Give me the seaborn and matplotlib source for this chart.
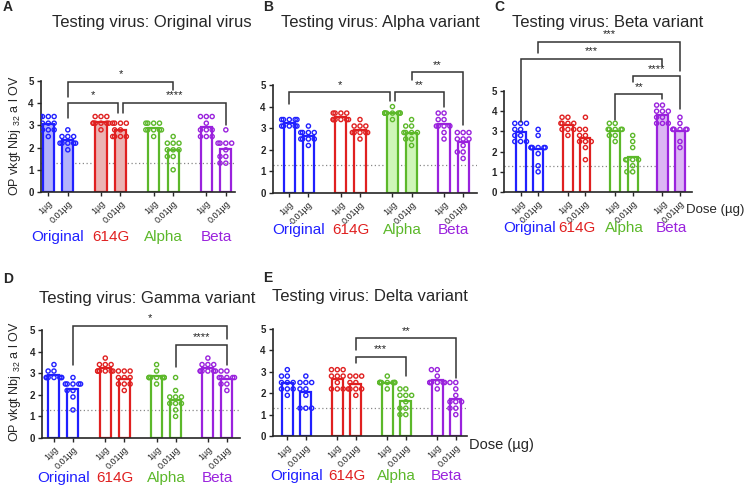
import warnings
warnings.filterwarnings("ignore")
import numpy as np
import pandas as pd
import matplotlib
matplotlib.use("Agg")
import matplotlib.pyplot as plt
import matplotlib.transforms as mtransforms
import seaborn as sns

# ---------------- data ----------------
groups = ["Original", "614G", "Alpha", "Beta"]
doses = ["1µg", "0.01µg"]
colors = ["#2020ff", "#e02020", "#5cb82a", "#9a22dd"]
fill_colors = ["#b3b3fb", "#ebb3b3", "#cff6b8", "#dcb6f4"]

titles = ["Testing virus: Original virus", "Testing virus: Alpha variant",
          "Testing virus: Beta variant", "Testing virus: Gamma variant",
          "Testing virus: Delta variant"]
letters = ["A", "B", "C", "D", "E"]
filled_groups = [["Original", "614G"], ["Alpha"], ["Beta"], [], []]
ylabel_text = r"OP vkgt Nbj $_{32}$ a l OV"

# values per bar: Original 1µg, Original 0.01µg, 614G 1µg, 614G 0.01µg,
# Alpha 1µg, Alpha 0.01µg, Beta 1µg, Beta 0.01µg
vals_A = [
    [3.4, 3.4, 3.4, 3.4, 3.1, 3.1, 3.1, 2.8, 2.8, 2.8, 2.5],
    [2.8, 2.5, 2.5, 2.5, 2.2, 2.2, 2.2, 2.2, 2.2, 1.9],
    [3.4, 3.4, 3.4, 3.1, 3.1, 3.1, 3.1, 3.1, 3.1, 2.8],
    [3.1, 3.1, 3.1, 3.1, 2.8, 2.8, 2.5, 2.5, 2.5, 2.5],
    [3.1, 3.1, 3.1, 3.1, 2.8, 2.8, 2.8, 2.8, 2.8, 2.5],
    [2.5, 2.2, 2.2, 2.2, 1.9, 1.9, 1.9, 1.6, 1.6, 1.0],
    [3.4, 3.4, 3.4, 3.1, 2.8, 2.8, 2.8, 2.5, 2.5, 2.5],
    [2.8, 2.2, 2.2, 2.2, 2.2, 1.9, 1.6, 1.6, 1.3, 1.3],
]
vals_B = [
    [3.4, 3.4, 3.4, 3.4, 3.4, 3.1, 3.1, 3.1, 3.1, 3.1],
    [3.1, 2.8, 2.8, 2.8, 2.8, 2.5, 2.5, 2.5, 2.5, 2.2],
    [3.7, 3.7, 3.7, 3.7, 3.4, 3.4, 3.4, 3.4, 3.4, 3.4],
    [3.4, 3.1, 3.1, 3.1, 2.8, 2.8, 2.8, 2.8, 2.8, 2.5],
    [4.0, 3.7, 3.7, 3.7, 3.7, 3.7, 3.7, 3.7, 3.7, 3.4],
    [3.4, 3.1, 3.1, 2.8, 2.8, 2.8, 2.8, 2.5, 2.5, 2.2],
    [3.7, 3.7, 3.4, 3.4, 3.1, 3.1, 3.1, 3.1, 2.8, 2.5],
    [2.8, 2.8, 2.8, 2.5, 2.5, 2.5, 2.2, 1.9, 1.9, 1.6],
]
vals_C = [
    [3.4, 3.4, 3.4, 3.1, 3.1, 2.8, 2.8, 2.5, 2.5, 2.5],
    [3.1, 2.8, 2.2, 2.2, 2.2, 2.2, 2.2, 2.2, 1.9, 1.3, 1.0],
    [3.7, 3.7, 3.4, 3.4, 3.4, 3.4, 3.1, 3.1, 3.1, 2.8],
    [3.7, 3.1, 3.1, 2.8, 2.8, 2.5, 2.5, 2.5, 2.2, 1.6],
    [3.4, 3.4, 3.1, 3.1, 3.1, 3.1, 3.1, 2.8, 2.8, 2.5],
    [2.8, 2.5, 2.2, 1.6, 1.6, 1.6, 1.6, 1.3, 1.0, 1.0],
    [4.3, 4.3, 4.0, 4.0, 4.0, 3.7, 3.7, 3.4, 3.4, 3.4],
    [3.7, 3.4, 3.1, 3.1, 3.1, 3.1, 3.1, 3.1, 2.5, 2.2],
]
vals_D = [
    [3.4, 3.1, 3.1, 2.8, 2.8, 2.8, 2.8, 2.8, 2.8, 2.8],
    [2.8, 2.5, 2.5, 2.5, 2.5, 2.5, 2.2, 2.2, 1.9, 1.3],
    [3.7, 3.4, 3.4, 3.4, 3.1, 3.1, 3.1, 3.1, 3.1, 3.1],
    [3.1, 3.1, 3.1, 2.8, 2.8, 2.8, 2.5, 2.5, 2.5, 2.2],
    [3.4, 3.1, 2.8, 2.8, 2.8, 2.8, 2.8, 2.8, 2.8, 2.5],
    [2.8, 2.2, 1.9, 1.9, 1.9, 1.6, 1.6, 1.6, 1.3, 1.0],
    [3.7, 3.4, 3.4, 3.4, 3.1, 3.1, 3.1, 3.1, 3.1, 3.1],
    [3.1, 3.1, 2.8, 2.8, 2.8, 2.8, 2.8, 2.5, 2.5, 2.2],
]
vals_E = [
    [3.1, 2.8, 2.8, 2.5, 2.5, 2.5, 2.2, 2.2, 2.2, 1.9],
    [2.8, 2.5, 2.5, 2.5, 2.2, 2.2, 1.9, 1.3, 1.3, 1.3],
    [3.1, 3.1, 3.1, 2.8, 2.8, 2.8, 2.5, 2.2, 2.2, 2.2],
    [2.8, 2.8, 2.8, 2.5, 2.5, 2.2, 2.2, 2.2, 2.2, 1.9],
    [2.8, 2.5, 2.5, 2.5, 2.5, 2.5, 2.5, 2.5, 2.5, 2.2],
    [2.2, 2.2, 1.9, 1.9, 1.9, 1.6, 1.3, 1.3, 1.0, 1.0],
    [3.1, 3.1, 2.8, 2.5, 2.5, 2.5, 2.5, 2.5, 2.5, 2.2],
    [2.5, 2.5, 2.2, 1.9, 1.6, 1.6, 1.6, 1.3, 1.3, 1.0],
]
panel_vals = [vals_A, vals_B, vals_C, vals_D, vals_E]

# significance brackets: (bar i, bar j, line y, leg-i bottom, leg-j bottom, label, dx_i, dx_j)
brackets_A = [(1, 5, 4.97, 4.3, 4.6, "*", 0, 0),
              (1, 3, 4.0, 3.33, 3.55, "*", 0, -0.12),
              (3, 7, 4.0, 3.55, 3.0, "****", 0.12, 0)]
brackets_B = [(0, 4, 4.66, 4.1, 4.28, "*", 0, -0.12),
              (4, 6, 4.66, 4.28, 4.0, "**", 0.12, 0),
              (5, 7, 5.58, 5.23, 3.15, "**", 0, 0)]
brackets_C = [(4, 6, 4.84, 3.56, 4.62, "**", 0, 0),
              (5, 7, 5.72, 5.44, 4.1, "****", 0, 0),
              (0, 6, 6.59, 3.48, 6.26, "***", 0, 0),
              (1, 7, 7.44, 6.9, 6.0, "***", 0, 0)]
brackets_D = [(1, 7, 5.18, 3.38, 4.57, "*", 0, 0),
              (5, 7, 4.31, 3.3, 3.38, "****", 0, 0)]
brackets_E = [(3, 7, 4.57, 4.0, 2.72, "**", 0, 0),
              (3, 5, 3.69, 3.42, 2.8, "***", 0, 0)]
panel_brackets = [brackets_A, brackets_B, brackets_C, brackets_D, brackets_E]

# ---------------- layout (pixels) ----------------
W, H = 747, 487
group_step = 2.7
axes_px = [(40.7, 235.0, 81, 192), (272.7, 476.7, 85, 193), (504.0, 691.7, 91, 192),
           (42.0, 240.0, 330, 438), (272.7, 466.7, 329, 436)]
xlims = [(-0.39, 9.57), (-0.87, 9.81), (-0.95, 9.77), (-0.63, 9.79), (-0.79, 9.69)]
title_px = [(152, 23), (380, 22), (608, 22), (147, 298), (370, 296)]
letter_px = [(3, 7), (263, 7), (494, 7), (3, 279), (263, 278)]
group_label_y = [-0.405, -0.34, -0.353, -0.37, -0.374]
ylabel_px = [(15, 136), (15, 382)]

sns.set_style("ticks")
plt.rcParams["font.family"] = ["Liberation Sans", "DejaVu Sans"]
plt.rcParams["mathtext.fontset"] = "custom"
plt.rcParams["mathtext.rm"] = "Liberation Sans"

fig = plt.figure(figsize=(W / 100, H / 100), dpi=100)


def rect(l, r, t, b):
    return [l / W, 1 - b / H, (r - l) / W, (b - t) / H]


for p in range(5):
    ax = fig.add_axes(rect(*axes_px[p]))
    rows = []
    positions = []
    for gi, g in enumerate(groups):
        for di, d in enumerate(doses):
            pos = gi * group_step + di
            positions.append(pos)
            for v in panel_vals[p][gi * 2 + di]:
                rows.append({"pos": pos, "value": v, "variant": g, "dose": d})
    df = pd.DataFrame(rows)

    ax.axhline(1.3, color="#888888", ls=(0, (1, 2)), lw=0.9, zorder=0)

    sns.barplot(data=df, x="pos", y="value", hue="variant", hue_order=groups,
                palette=colors, native_scale=True, dodge=False, errorbar=None,
                fill=False, width=0.58, saturation=1, linewidth=1.6,
                legend=False, ax=ax, zorder=2)
    for patch in ax.patches:
        xc = patch.get_x() + patch.get_width() / 2
        gi = int(xc / group_step + 0.01)
        if groups[gi] in filled_groups[p]:
            patch.set_facecolor(fill_colors[gi])
            patch.set_fill(True)

    n_before = len(ax.collections)
    sns.swarmplot(data=df, x="pos", y="value", hue="variant", hue_order=groups,
                  palette=colors, native_scale=True, dodge=False, size=3.0,
                  legend=False, ax=ax, zorder=3, warn_thresh=1)
    for c in ax.collections[n_before:]:
        fc = c.get_facecolors()
        c.set_edgecolors(fc)
        c.set_facecolors("none")
        c.set_linewidth(1.0)

    ax.set_xlim(*xlims[p])
    ax.set_ylim(0, 5)
    ax.set_yticks(range(6))
    ax.set_yticklabels([str(i) for i in range(6)], fontsize=7, fontweight="bold")
    ax.set_xticks(positions)
    ax.set_xticklabels(doses * 4, rotation=45, ha="right", rotation_mode="anchor",
                       fontsize=6.5)
    ax.tick_params(axis="both", length=3, width=1.0, pad=2)
    ax.set_xlabel("")
    ax.set_ylabel("")
    sns.despine(ax=ax)
    for s in ("left", "bottom"):
        ax.spines[s].set_linewidth(1.2)

    trans = mtransforms.blended_transform_factory(ax.transData, ax.transAxes)
    for gi, g in enumerate(groups):
        ax.text(gi * group_step + 0.5, group_label_y[p], g, transform=trans,
                color=colors[gi], ha="center", va="center", fontsize=11)

    for (i, j, yl, b1, b2, lab, dx1, dx2) in panel_brackets[p]:
        x1 = positions[i] + dx1
        x2 = positions[j] + dx2
        ax.plot([x1, x1, x2, x2], [b1, yl, yl, b2], color="#333333", lw=1.1,
                clip_on=False, zorder=4, solid_joinstyle="miter")
        ax.text((x1 + x2) / 2, yl + 0.12, lab, ha="center", va="bottom",
                fontsize=8, color="#222222", clip_on=False)

    tx, ty = title_px[p]
    fig.text(tx / W, 1 - ty / H, titles[p], ha="center", va="center", fontsize=12)
    lx, ly = letter_px[p]
    fig.text(lx / W, 1 - ly / H, letters[p], ha="left", va="center", fontsize=10,
             fontweight="bold")

for (yx, yy) in ylabel_px:
    fig.text(yx / W, 1 - yy / H, ylabel_text, rotation=90, ha="center", va="center",
             fontsize=9)

fig.text(744 / W, 1 - 210 / H, "Dose (µg)", ha="right", va="center", fontsize=9.5)
fig.text(469 / W, 1 - 445 / H, "Dose (µg)", ha="left", va="center", fontsize=10.5)

fig.savefig("out.png", dpi=100)
